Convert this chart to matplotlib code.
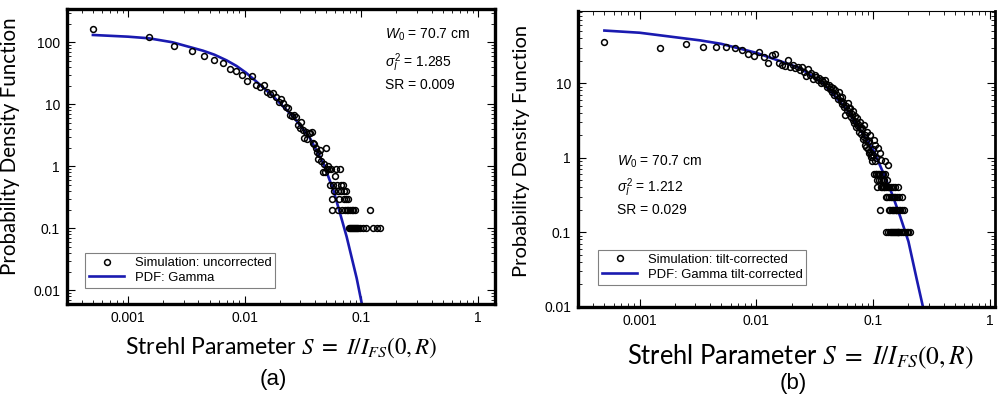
import numpy as np
import matplotlib
matplotlib.use("Agg")
import matplotlib.pyplot as plt

plt.rcParams['font.family'] = ['Liberation Sans', 'DejaVu Sans']
plt.rcParams['mathtext.fontset'] = 'custom'
plt.rcParams['mathtext.rm'] = 'Liberation Sans'
plt.rcParams['mathtext.it'] = 'Liberation Sans:italic'

# ---- panel (a): uncorrected ----
sim_a_x = [0.0005, 0.0015, 0.0025, 0.0035, 0.0045, 0.0055, 0.0065, 0.0075, 0.0085, 0.0095,
           0.0105, 0.0115, 0.0125, 0.0135, 0.0145, 0.0155, 0.0165, 0.0175, 0.0185, 0.0195,
           0.0205, 0.0215, 0.0225, 0.0235, 0.0245, 0.0255, 0.0265, 0.0275, 0.0285, 0.0295,
           0.0305, 0.0315, 0.0325, 0.0335, 0.0345, 0.0355, 0.0365, 0.0375, 0.0385, 0.0395,
           0.0405, 0.0415, 0.0425, 0.0435, 0.0445, 0.0455, 0.0465, 0.0475, 0.0485, 0.0495,
           0.0505, 0.0515, 0.0525, 0.0535, 0.0545, 0.0555, 0.0565, 0.0575, 0.0585, 0.0595,
           0.0605, 0.0615, 0.0625, 0.0635, 0.0645, 0.0655, 0.0665, 0.0675, 0.0685, 0.0695,
           0.0705, 0.0715, 0.0725, 0.0735, 0.0745, 0.0755, 0.0765, 0.0775, 0.0785, 0.0795,
           0.0805, 0.0815, 0.0825, 0.0835, 0.0845, 0.0855, 0.0865, 0.0875, 0.0885, 0.0905,
           0.0915, 0.0945, 0.0975, 0.1035, 0.1105, 0.1185, 0.1265, 0.1355, 0.1445]
sim_a_y = [164, 120, 87, 72, 59, 52, 46, 37.5, 34, 30,
           24, 28.6, 20.5, 18.8, 20.5, 15.9, 14.7, 15.0, 13.0, 11.0,
           12.3, 10.5, 9.0, 8.6, 6.8, 6.5, 6.7, 6.3, 4.6, 4.1,
           5.2, 3.9, 2.9, 3.6, 2.8, 3.4, 3.5, 3.6, 2.4, 2.3,
           2.0, 1.7, 1.3, 1.6, 1.8, 1.2, 0.8, 1.1, 0.8, 2.0,
           0.9, 1.0, 0.9, 0.5, 0.9, 0.3, 0.2, 0.5, 0.4, 0.7,
           0.9, 0.5, 0.4, 0.2, 0.3, 0.9, 0.5, 0.4, 0.2, 0.5,
           0.4, 0.3, 0.2, 0.4, 0.3, 0.2, 0.3, 0.2, 0.1, 0.2,
           0.1, 0.1, 0.2, 0.1, 0.2, 0.1, 0.1, 0.2, 0.1, 0.1,
           0.1, 0.1, 0.1, 0.1, 0.1, 0.2, 0.1, 0.1, 0.1]
pdf_a_x = [0.0005, 0.001, 0.0015, 0.0024, 0.0044, 0.0055, 0.0070, 0.0085, 0.0102, 0.0119,
           0.0176, 0.0261, 0.0363, 0.0472, 0.0575, 0.0656, 0.0748, 0.0912, 0.1, 0.103]
pdf_a_y = [131, 123, 116, 100, 73, 63, 51, 41.5, 32.5, 25.5,
           13.3, 6.3, 2.83, 1.12, 0.415, 0.175, 0.073, 0.0156, 0.0066, 0.005]

# ---- panel (b): tilt-corrected ----
sim_b_x = [0.0005, 0.0015, 0.0025, 0.0035, 0.0045, 0.0055, 0.0065, 0.0075, 0.0085, 0.0095,
           0.0105, 0.0115, 0.0125, 0.0135, 0.0145, 0.0155, 0.0165, 0.0175, 0.0185, 0.0195,
           0.0205, 0.0215, 0.0225, 0.0235, 0.0245, 0.0255, 0.0265, 0.0275, 0.0285, 0.0295,
           0.0305, 0.0315, 0.0325, 0.0335, 0.0345, 0.0355, 0.0365, 0.0375, 0.0385, 0.0395,
           0.0405, 0.0415, 0.0425, 0.0435, 0.0445, 0.0455, 0.0465, 0.0475, 0.0485, 0.0495,
           0.0505, 0.0515, 0.0525, 0.0535, 0.0545, 0.0555, 0.0565, 0.0575, 0.0585, 0.0595,
           0.0605, 0.0615, 0.0625, 0.0635, 0.0645, 0.0655, 0.0665, 0.0675, 0.0685, 0.0695,
           0.0705, 0.0715, 0.0725, 0.0735, 0.0745, 0.0755, 0.0765, 0.0775, 0.0785, 0.0795,
           0.0805, 0.0815, 0.0825, 0.0835, 0.0845, 0.0855, 0.0865, 0.0875, 0.0885, 0.0895,
           0.0905, 0.0915, 0.0925, 0.0935, 0.0945, 0.0955, 0.0965, 0.0975, 0.0985, 0.0995,
           0.1005, 0.1015, 0.1025, 0.1035, 0.1045, 0.1055, 0.1065, 0.1075, 0.1085, 0.1095,
           0.1105, 0.1115, 0.1125, 0.1135, 0.1145, 0.1155, 0.1165, 0.1175, 0.1185, 0.1195,
           0.1205, 0.1215, 0.1225, 0.1235, 0.1245, 0.1255, 0.1265, 0.1275, 0.1285, 0.1295,
           0.1305, 0.1315, 0.1325, 0.1335, 0.1345, 0.1355, 0.1365, 0.1375, 0.1385, 0.1395,
           0.1405, 0.1415, 0.1425, 0.1435, 0.1445, 0.1455, 0.1465, 0.1475, 0.1485, 0.1495,
           0.1505, 0.1515, 0.1525, 0.1535, 0.1545, 0.1555, 0.1565, 0.1575, 0.1585, 0.1595,
           0.1605, 0.1615, 0.1625, 0.1635, 0.1645, 0.1655, 0.1675, 0.1695, 0.1715, 0.1745,
           0.1775, 0.1805, 0.1845, 0.1875, 0.1935, 0.1985, 0.2055]
sim_b_y = [35.8, 29.8, 33.6, 30.7, 30.4, 30.4, 29.5, 27.7, 24.7, 23,
           26.5, 22.3, 18.9, 24, 24.5, 18.5, 17.6, 17.0, 20.5, 16.5,
           17.6, 16.0, 16.7, 15.0, 16.5, 14.0, 12.3, 15.5, 12.9, 13.6,
           11.2, 12.9, 12.0, 10.9, 11.7, 10.2, 11.1, 10.5, 11.1, 9.6,
           9.0, 9.5, 8.4, 9.0, 7.5, 8.6, 6.9, 8.1, 7.0, 6.2,
           7.7, 6.5, 5.8, 6.6, 5.2, 5.6, 4.8, 3.75, 5.0, 4.4,
           5.4, 4.6, 4.0, 4.6, 3.5, 3.9, 3.2, 4.2, 2.9, 3.6,
           2.6, 3.0, 3.4, 2.7, 2.8, 2.2, 2.5, 3.05, 2.1, 2.4,
           2.5, 1.8, 2.76, 1.9, 2.0, 1.5, 1.7, 1.4, 2.24, 1.3,
           1.6, 1.15, 1.65, 1.2, 2.0, 1.03, 1.1, 0.9, 1.3, 1.1,
           1.74, 0.6, 0.9, 1.49, 0.6, 0.6, 1.0, 0.5, 0.4, 0.6,
           1.34, 0.5, 0.6, 0.2, 1.15, 0.4, 0.5, 0.93, 0.6, 0.4,
           0.5, 0.6, 0.4, 0.5, 0.4, 0.6, 0.9, 0.3, 0.4, 0.1,
           0.5, 0.3, 0.4, 0.1, 0.8, 0.2, 0.3, 0.4, 0.1, 0.2,
           0.3, 0.4, 0.1, 0.2, 0.3, 0.1, 0.4, 0.2, 0.1, 0.3,
           0.1, 0.2, 0.4, 0.1, 0.3, 0.2, 0.1, 0.2, 0.1, 0.3,
           0.2, 0.1, 0.4, 0.1, 0.2, 0.1, 0.3, 0.2, 0.1, 0.3,
           0.2, 0.1, 0.2, 0.1, 0.1, 0.1, 0.1]
pdf_b_x = [0.0005, 0.001, 0.0033, 0.005, 0.01, 0.0237, 0.037, 0.0457, 0.0595, 0.0773,
           0.1, 0.122, 0.144, 0.17, 0.2, 0.236, 0.266, 0.272]
pdf_b_y = [50.8, 47.5, 37.5, 33.7, 25.5, 15.9, 10, 7.0, 4.4, 2.36,
           1.27, 0.62, 0.333, 0.162, 0.075, 0.023, 0.01, 0.0088]

line_color = '#1a1ab0'

fig = plt.figure(figsize=(10.05, 4.01), dpi=100)
ax_a = fig.add_axes([0.0667, 0.2419, 0.4259, 0.7357])
ax_b = fig.add_axes([0.5751, 0.2352, 0.4149, 0.7374])


def style_axes(ax, xlim, ylim, spine_w):
    ax.set_xscale('log')
    ax.set_yscale('log')
    ax.set_xlim(*xlim)
    ax.set_ylim(*ylim)
    for side, w in spine_w.items():
        ax.spines[side].set_linewidth(w)
    ax.tick_params(which='both', direction='in', top=True, right=True, labelsize=10, pad=5)
    ax.tick_params(which='major', length=6, width=0.8)
    ax.tick_params(which='minor', length=3, width=0.6)
    ax.xaxis.set_major_locator(matplotlib.ticker.LogLocator(base=10, numticks=10))
    ax.yaxis.set_major_locator(matplotlib.ticker.LogLocator(base=10, numticks=10))
    fmt = matplotlib.ticker.FuncFormatter(lambda v, p: ('%g' % v))
    ax.xaxis.set_major_formatter(fmt)
    ax.yaxis.set_major_formatter(fmt)
    ax.xaxis.set_minor_formatter(matplotlib.ticker.NullFormatter())
    ax.yaxis.set_minor_formatter(matplotlib.ticker.NullFormatter())


style_axes(ax_a, (0.0003, 1.4), (0.006, 344),
           {'left': 2.4, 'bottom': 2.4, 'top': 2.4, 'right': 2.4})
style_axes(ax_b, (0.000297, 1.1), (0.01, 93),
           {'left': 2.4, 'bottom': 2.4, 'top': 0.8, 'right': 2.0})

ax_a.plot(sim_a_x, sim_a_y, 'o', ms=4.2, mfc='none', mec='black', mew=1.1,
          label='Simulation: uncorrected', zorder=3)
ax_a.plot(pdf_a_x, pdf_a_y, '-', color=line_color, lw=1.9, label='PDF: Gamma', zorder=2)

ax_b.plot(sim_b_x, sim_b_y, 'o', ms=4.2, mfc='none', mec='black', mew=1.1,
          label='Simulation: tilt-corrected', zorder=3)
ax_b.plot(pdf_b_x, pdf_b_y, '-', color=line_color, lw=1.9,
          label='PDF: Gamma tilt-corrected', zorder=2)

for ax, anchor in ((ax_a, (0.042, 0.055)), (ax_b, (0.048, 0.075))):
    leg = ax.legend(loc='lower left', bbox_to_anchor=anchor, borderaxespad=0,
                    fancybox=False, edgecolor='#808080', fontsize=9.4,
                    handlelength=2.7, handletextpad=0.8, labelspacing=0.2,
                    borderpad=0.3, framealpha=1)
    leg.get_frame().set_linewidth(0.8)

ax_a.text(0.744, 0.912, r'$W_0$ = 70.7 cm', transform=ax_a.transAxes, fontsize=10, va='center')
ax_a.text(0.744, 0.818, r'$\sigma_I^2$ = 1.285', transform=ax_a.transAxes, fontsize=10, va='center')
ax_a.text(0.744, 0.742, 'SR = 0.009', transform=ax_a.transAxes, fontsize=10, va='center')

ax_b.text(0.094, 0.490, r'$W_0$ = 70.7 cm', transform=ax_b.transAxes, fontsize=10, va='center')
ax_b.text(0.094, 0.402, r'$\sigma_I^2$ = 1.212', transform=ax_b.transAxes, fontsize=10, va='center')
ax_b.text(0.094, 0.328, 'SR = 0.029', transform=ax_b.transAxes, fontsize=10, va='center')

ylab = 'Probability Density Function'
xlab = r'Strehl Parameter $S\ =\ I/I_{FS}(0,R)$'
for ax, fs_y, fs_x, ycoords, xcoords in ((ax_a, 14.8, 16.6, (-0.11, 0.536), (0.5, -0.149)),
                                         (ax_b, 14.5, 18.4, (-0.115, 0.527), (0.532, -0.17))):
    ax.set_ylabel(ylab, fontsize=fs_y, family=['Lato', 'DejaVu Sans'])
    ax.yaxis.set_label_coords(*ycoords)
    xl = ax.set_xlabel(xlab, fontsize=fs_x, family=['Lato', 'DejaVu Sans'], va='center')
    xl.set_math_fontfamily('stix')
    ax.xaxis.set_label_coords(*xcoords)

fig.text(273 / 1005, 1 - 380 / 401, '(a)', fontsize=16, ha='center', va='center')
fig.text(793 / 1005, 1 - 383 / 401, '(b)', fontsize=16, ha='center', va='center')

fig.savefig('out.png', dpi=100)
